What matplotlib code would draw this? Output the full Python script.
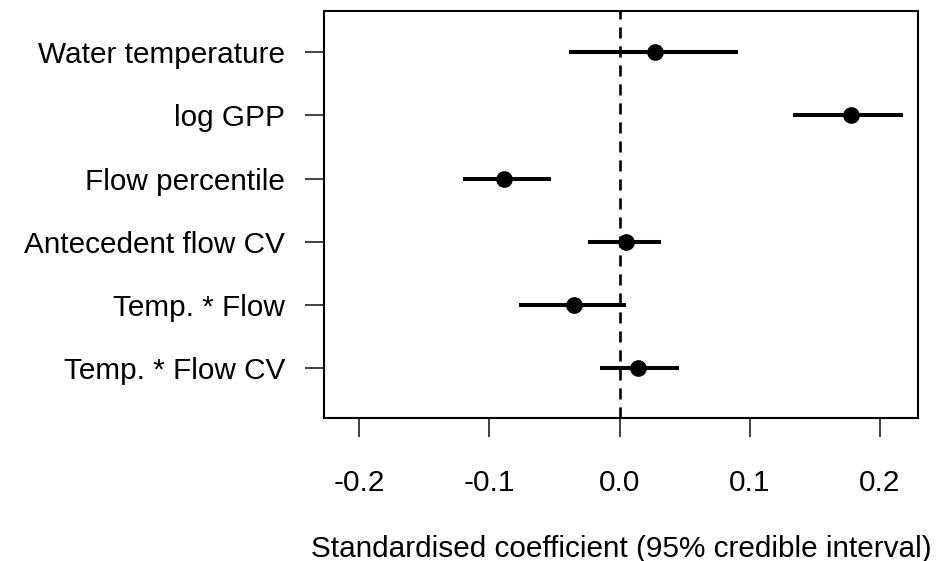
import numpy as np
import matplotlib.pyplot as plt

plt.rcParams['font.family'] = ['Liberation Sans', 'DejaVu Sans']

# coefficient estimates, top row first
labels = ['Water temperature', 'log GPP', 'Flow percentile',
          'Antecedent flow CV', 'Temp. * Flow', 'Temp. * Flow CV']
estimate = [0.027, 0.178, -0.089, 0.005, -0.035, 0.014]
lower = [-0.039, 0.133, -0.120, -0.024, -0.077, -0.015]
upper = [0.091, 0.218, -0.053, 0.032, 0.005, 0.046]
xticks = [-0.2, -0.1, 0.0, 0.1, 0.2]

ypos = np.arange(len(labels), 0, -1)

fig = plt.figure(figsize=(9.45, 5.61), dpi=100)
ax = fig.add_axes([0.343, 0.255, 0.628, 0.725])

ax.axvline(0, color='black', linestyle=(0, (4.2, 3)), linewidth=1.9, zorder=1)
ax.hlines(ypos, lower, upper, color='black', linewidth=2.9, zorder=2)
ax.plot(estimate, ypos, 'o', color='black', markersize=11, zorder=3)

ax.set_xlim(-0.227, 0.229)
ax.set_ylim(0.21, 6.65)
ax.set_yticks(ypos)
ax.set_yticklabels(labels)
ax.set_xticks(xticks)
ax.set_xticklabels([f'{v:.1f}' for v in xticks])

ax.tick_params(axis='both', labelsize=21.4, length=14, width=1.3, color='#333333')
ax.tick_params(axis='x', pad=23)
ax.tick_params(axis='y', pad=14)
for s in ax.spines.values():
    s.set_linewidth(1.5)

ax.set_xlabel('Standardised coefficient (95% credible interval)', fontsize=21.4, labelpad=27)

fig.savefig('out.png', dpi=100)
